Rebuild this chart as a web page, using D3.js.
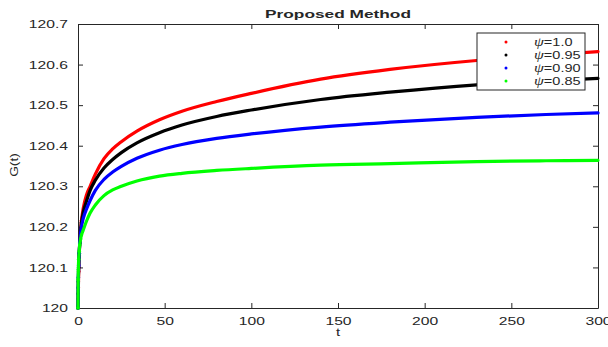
<!DOCTYPE html>
<html>
<head>
<meta charset="utf-8">
<script src="https://cdn.jsdelivr.net/npm/d3@7"></script>
<style>
  body { margin: 0; background: #fff; }
  svg text { font-family: "Liberation Sans", Arial, sans-serif; fill: #262626; }
</style>
</head>
<body>
<div id="chart"></div>
<script>
// values
const tValues = [0, 0.1, 0.2, 0.4, 0.7, 1, 1.5, 2, 3, 5, 7, 10, 15, 20, 25, 34, 47, 60, 80, 100, 140, 180, 230, 270, 300];
const psi10  = [120, 120.022, 120.05, 120.09, 120.13, 120.16, 120.19, 120.215, 120.245, 120.28, 120.30, 120.33, 120.368, 120.392, 120.41, 120.436, 120.464, 120.485, 120.509, 120.529, 120.564, 120.588, 120.610, 120.623, 120.632];
const psi095 = [120, 120.035, 120.065, 120.10, 120.135, 120.16, 120.19, 120.21, 120.235, 120.265, 120.29, 120.315, 120.345, 120.366, 120.383, 120.407, 120.432, 120.451, 120.472, 120.488, 120.514, 120.532, 120.550, 120.560, 120.566];
const psi090 = [120, 120.05, 120.075, 120.105, 120.135, 120.16, 120.185, 120.20, 120.22, 120.245, 120.265, 120.29, 120.317, 120.335, 120.349, 120.369, 120.389, 120.403, 120.418, 120.429, 120.446, 120.458, 120.470, 120.477, 120.481];
const psi085 = [120, 120.07, 120.095, 120.12, 120.14, 120.155, 120.17, 120.18, 120.192, 120.215, 120.234, 120.254, 120.277, 120.291, 120.300, 120.313, 120.325, 120.332, 120.339, 120.344, 120.352, 120.356, 120.361, 120.363, 120.364];
const seriesNames = ["1.0", "0.95", "0.90", "0.85"];
const seriesColors = ["#ff0000", "#000000", "#0000ff", "#00ff00"];
const xTicks = [0, 50, 100, 150, 200, 250, 300];
const yTicks = [120, 120.1, 120.2, 120.3, 120.4, 120.5, 120.6, 120.7];

(function () {
    const width = 608, height = 347;
    const m = { t: 24, r: 10, b: 39, l: 78 }, iw = width - m.l - m.r, ih = height - m.t - m.b;
    const axisColor = "#262626";

    function stretch(sel, k) {
        sel.each(function () {
            const w = this.getComputedTextLength();
            this.setAttribute("textLength", w * k);
            this.setAttribute("lengthAdjust", "spacingAndGlyphs");
        });
    }

    const svg = d3.select("#chart").append("svg").attr("width", width).attr("height", height);
    const g = svg.append("g").attr("transform", `translate(${m.l},${m.t})`);

    const x = d3.scaleLinear().domain([0, 300]).range([0, iw]);
    const y = d3.scaleLinear().domain([120, 120.7]).range([ih, 0]);
    const fmtY = d => d3.format(".1f")(d).replace(/\.0$/, "");

    // box axes (MATLAB style, ticks inward)
    g.append("g").attr("transform", `translate(0,${ih})`)
        .call(d3.axisBottom(x).tickValues(xTicks).tickSizeInner(-5).tickSizeOuter(0).tickPadding(9));
    g.append("g")
        .call(d3.axisLeft(y).tickValues(yTicks).tickFormat(fmtY).tickSizeInner(-5).tickSizeOuter(0).tickPadding(10));
    g.append("g").call(d3.axisTop(x).tickValues(xTicks).tickSizeInner(-5).tickSizeOuter(0).tickFormat(""));
    g.append("g").attr("transform", `translate(${iw},0)`)
        .call(d3.axisRight(y).tickValues(yTicks).tickSizeInner(-5).tickSizeOuter(0).tickFormat(""));
    g.selectAll(".domain, .tick line").attr("stroke", axisColor);
    g.selectAll(".tick text").attr("font-size", 11.5).attr("fill", axisColor)
        .attr("font-family", "'Liberation Sans', Arial, sans-serif");
    stretch(g.selectAll(".tick text"), 1.36);

    // curves
    const allSeries = [psi10, psi095, psi090, psi085];
    const line = d3.line().x(d => x(d[0])).y(d => y(d[1])).curve(d3.curveMonotoneX);
    allSeries.forEach((vals, i) => {
        const pts = tValues.map((t, j) => [t, vals[j]]);
        g.append("path").datum(pts).attr("d", line)
            .attr("fill", "none").attr("stroke", seriesColors[i])
            .attr("stroke-width", 3.2).attr("stroke-linecap", "round");
        g.selectAll(null).data(pts.filter(d => d[0] <= 2)).enter().append("circle")
            .attr("cx", d => x(d[0])).attr("cy", d => y(d[1])).attr("r", 1.8)
            .attr("fill", seriesColors[i]);
    });

    // title and labels
    const title = svg.append("text").attr("x", m.l + iw / 2).attr("y", 17.5)
        .attr("text-anchor", "middle").attr("font-size", 11).attr("font-weight", "bold")
        .attr("fill", "#000").text("Proposed Method");
    title.attr("textLength", 146).attr("lengthAdjust", "spacingAndGlyphs");

    const xl = svg.append("text").attr("x", m.l + iw / 2).attr("y", 336)
        .attr("text-anchor", "middle").attr("font-size", 11).text("t");
    stretch(xl, 1.36);
    const yl = svg.append("text").attr("transform", `translate(18,165) rotate(-90)`)
        .attr("text-anchor", "middle").attr("font-size", 11.5).text("G(t)");
    stretch(yl, 1.2);

    // legend
    const lg = svg.append("g").attr("transform", "translate(477,33)");
    lg.append("rect").attr("width", 108).attr("height", 57)
        .attr("fill", "#fff").attr("stroke", axisColor).attr("stroke-width", 1);
    seriesNames.forEach((name, i) => {
        const ry = 9 + i * 13;
        lg.append("circle").attr("cx", 29).attr("cy", ry).attr("r", 1.5).attr("fill", seriesColors[i]);
        const tx = lg.append("text").attr("x", 57).attr("y", ry + 4).attr("font-size", 10.5);
        tx.append("tspan").attr("font-family", "'Liberation Serif', serif").attr("font-style", "italic")
            .attr("font-size", 11.5).text("\u03C8");
        tx.append("tspan").text("=" + name);
        stretch(tx, 1.38);
    });
})();
</script>
</body>
</html>
